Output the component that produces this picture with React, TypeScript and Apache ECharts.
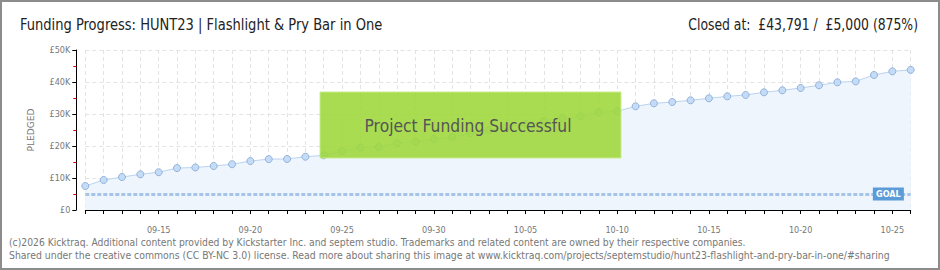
import React, { useEffect, useRef } from "react";
import * as echarts from "echarts";

// Daily pledged totals (GBP), 11 Sep – 26 Oct
const dates: string[] = [
  "09-11", "09-12", "09-13", "09-14", "09-15", "09-16", "09-17", "09-18", "09-19", "09-20",
  "09-21", "09-22", "09-23", "09-24", "09-25", "09-26", "09-27", "09-28", "09-29", "09-30",
  "10-01", "10-02", "10-03", "10-04", "10-05", "10-06", "10-07", "10-08", "10-09", "10-10",
  "10-11", "10-12", "10-13", "10-14", "10-15", "10-16", "10-17", "10-18", "10-19", "10-20",
  "10-21", "10-22", "10-23", "10-24", "10-25", "10-26",
];
const pledged: number[] = [
  7500, 9380, 10300, 11150, 11800, 13100, 13300, 13750, 14300, 15300,
  15900, 15950, 16650, 17080, 18440, 19480, 19690, 20830, 21350, 22190,
  22810, 23960, 25000, 26000, 26900, 27800, 28750, 29270, 30520, 30830,
  32400, 33330, 33750, 34270, 34900, 35520, 35940, 36770, 37400, 38130,
  38960, 39900, 40200, 42190, 43330, 43791,
];
const goal = 5000;
const goalLabelDate = "10-25";
const yTicks: number[] = [0, 10000, 20000, 30000, 40000, 50000];

const title = "Funding Progress: HUNT23 | Flashlight & Pry Bar in One";
const footer1 =
  "(c)2026 Kicktraq. Additional content provided by Kickstarter Inc. and septem studio. Trademarks and related content are owned by their respective companies.";
const footer2 =
  "Shared under the creative commons (CC BY-NC 3.0) license. Read more about sharing this image at www.kicktraq.com/projects/septemstudio/hunt23-flashlight-and-pry-bar-in-one/#sharing";
const banner = "Project Funding Successful";

const FONT = '"DejaVu Sans Condensed", "DejaVu Sans", sans-serif';

const money = (v: number) => "£" + v.toLocaleString("en-GB");

function measure(text: string, size: number): number {
  const ctx = document.createElement("canvas").getContext("2d");
  if (!ctx) return text.length * size * 0.5;
  ctx.font = `${size}px ${FONT}`;
  return ctx.measureText(text).width;
}

// horizontal squeeze so a line spans the wanted width
const fit = (text: string, size: number, width: number) => width / measure(text, size);

export default function App() {
  const ref = useRef<HTMLDivElement>(null);

  useEffect(() => {
    if (!ref.current) return;
    const chart = echarts.init(ref.current, undefined, { renderer: "svg" });

    const final = pledged[pledged.length - 1];
    const pct = Math.floor((final / goal) * 100);
    const closed = `Closed at:  ${money(final)} /  ${money(goal)} (${pct}%)`;

    const textEl = (
      text: string,
      x: number,
      y: number,
      size: number,
      width: number,
      color: string,
      align: "left" | "right" | "center" = "left",
      extra: any = {}
    ) => ({
      type: "text",
      x,
      y,
      scaleX: fit(text, size, width),
      silent: true,
      z: 100,
      style: {
        text,
        x: 0,
        y: 0,
        fill: color,
        font: `${size}px ${FONT}`,
        align,
        verticalAlign: "middle",
        ...extra,
      },
    });

    chart.setOption({
      animation: false,
      backgroundColor: "#ffffff",
      grid: { left: 85.3, right: 29.3, top: 50, bottom: 60 },
      xAxis: {
        type: "category",
        data: dates,
        boundaryGap: false,
        offset: 10,
        axisLine: { show: true, lineStyle: { color: "#000", width: 1 } },
        axisTick: { show: true, interval: 0, length: 4, lineStyle: { color: "#000" } },
        axisLabel: {
          interval: (i: number) => i % 5 === 4,
          color: "#777",
          fontSize: 9,
          fontFamily: FONT,
          margin: 5,
        },
        splitLine: {
          show: true,
          interval: 0,
          lineStyle: { color: "#e3e3e3", type: [4, 3] },
        },
      },
      yAxis: {
        type: "value",
        min: yTicks[0],
        max: yTicks[yTicks.length - 1],
        interval: yTicks[1] - yTicks[0],
        offset: 9,
        axisLine: { show: true, lineStyle: { color: "#000", width: 1 } },
        axisTick: { show: true, length: 4, lineStyle: { color: "#000" } },
        minorTick: { show: true, splitNumber: 2, length: 3, lineStyle: { color: "#e00000" } },
        axisLabel: {
          formatter: (v: number) => (v === 0 ? "£0" : "£" + v / 1000 + "K"),
          color: "#777",
          fontSize: 9,
          fontFamily: FONT,
          margin: 6,
        },
        splitLine: { show: true, lineStyle: { color: "#e3e3e3", type: [4, 3] } },
      },
      series: [
        {
          type: "line",
          data: pledged,
          symbol: "circle",
          symbolSize: 7,
          lineStyle: { color: "#b9d3f0", width: 1 },
          itemStyle: { color: "#c4dcf7", borderColor: "#93b2d9", borderWidth: 1 },
          areaStyle: { color: "#eef5fd", opacity: 1 },
          z: 3,
          markLine: {
            silent: true,
            symbol: "none",
            label: { show: false },
            lineStyle: { color: "#a6c4e8", width: 3, type: [4, 2] },
            data: [{ yAxis: goal }],
          },
          markPoint: {
            silent: true,
            symbol: "rect",
            symbolSize: [31, 13],
            symbolOffset: [-4, 0],
            itemStyle: { color: "#5b9bd8" },
            label: {
              show: true,
              formatter: "GOAL",
              color: "#fff",
              fontSize: 9,
              fontWeight: "bold",
              fontFamily: FONT,
            },
            data: [{ coord: [goalLabelDate, goal], value: goal }],
          },
        },
      ],
      graphic: [
        {
          type: "rect",
          silent: true,
          z: 0,
          shape: { x: 1, y: 1, width: 938, height: 268 },
          style: { fill: "none", stroke: "#8c8c8c", lineWidth: 2 },
        },
        textEl(title, 20, 25, 16, 363, "#222"),
        textEl(closed, 918, 25, 16, 230, "#222", "right"),
        {
          type: "text",
          x: 31,
          y: 130,
          rotation: Math.PI / 2,
          scaleX: fit("PLEDGED", 9, 43),
          silent: true,
          style: {
            text: "PLEDGED",
            fill: "#777",
            font: `9px ${FONT}`,
            align: "center",
            verticalAlign: "middle",
          },
        },
        {
          type: "rect",
          silent: true,
          z: 90,
          shape: { x: 320, y: 92, width: 301, height: 66 },
          style: {
            fill: "rgba(158, 215, 58, 0.88)",
            stroke: "rgba(200, 236, 140, 0.95)",
            lineWidth: 1,
          },
        },
        textEl(banner, 468, 126, 18, 207, "#555", "center", {
          textShadowColor: "#ffffff",
          textShadowOffsetX: -1,
          textShadowOffsetY: 1,
          textShadowBlur: 0,
        }),
        textEl(footer1, 9, 243, 10, 737, "#777"),
        textEl(footer2, 9, 256, 10, 881, "#777"),
      ],
    });

    return () => chart.dispose();
  }, []);

  return (
    <div
      ref={ref}
      style={{ position: "absolute", left: 0, top: 0, width: 940, height: 270, background: "#fff" }}
    />
  );
}
